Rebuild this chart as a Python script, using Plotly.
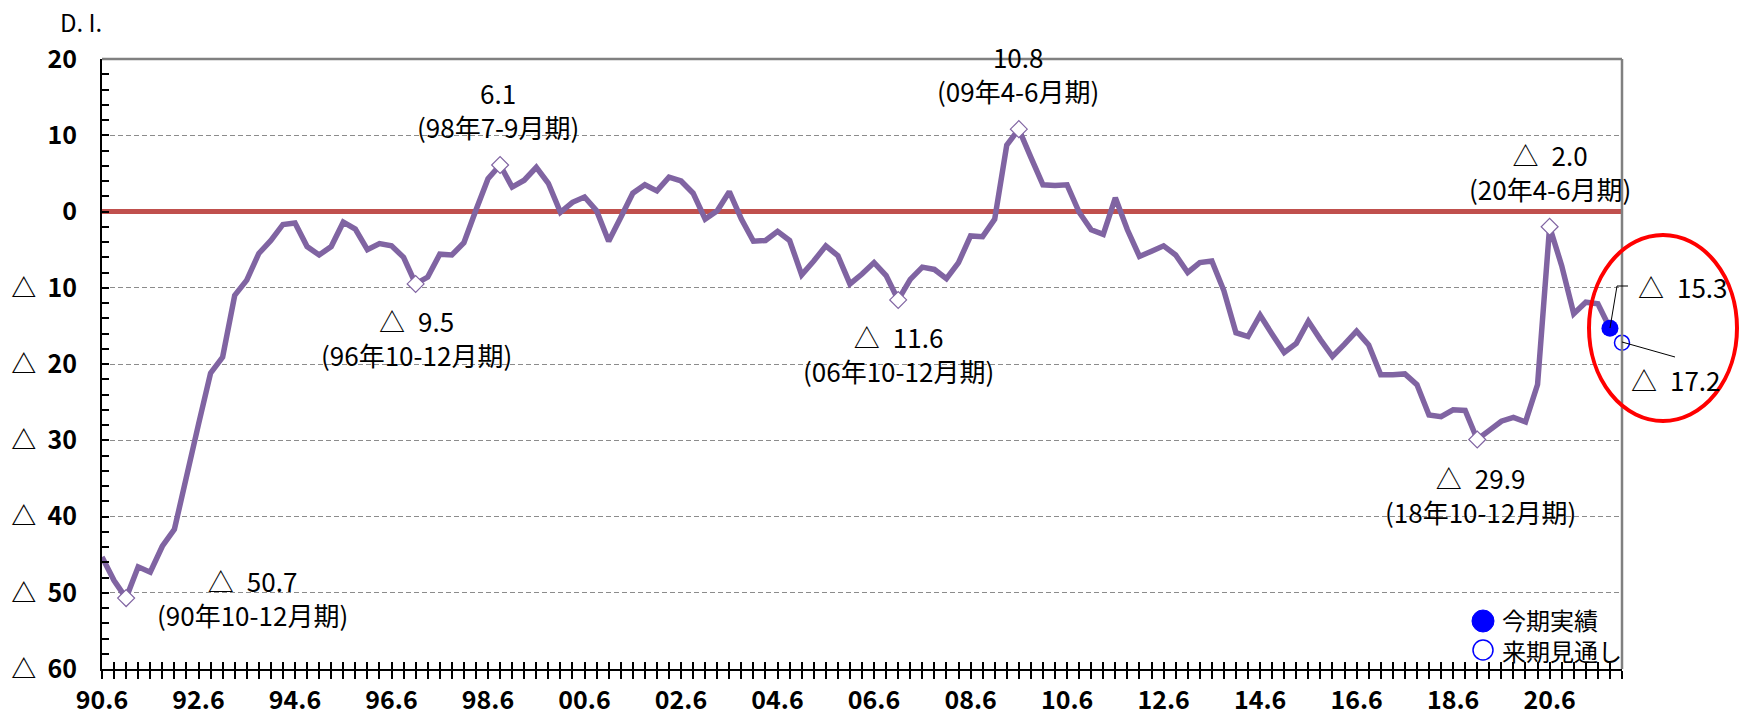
import plotly.graph_objects as go

# ---- data -------------------------------------------------------------
# Quarterly business conditions D.I., 1990 Apr-Jun (90.6) through 2021 Jul-Sep
di_values = [
    -45.3, -48.4, -50.7, -46.6, -47.3, -43.9, -41.7, -34.4,   # 90.6 - 92.3
    -27.9, -21.2, -19.1, -11.0, -9.0, -5.5, -3.8, -1.7,       # 92.6 - 94.3
    -1.5, -4.6, -5.7, -4.6, -1.4, -2.3, -5.0, -4.2,           # 94.6 - 96.3
    -4.5, -6.0, -9.5, -8.6, -5.6, -5.7, -4.1, 0.2,            # 96.6 - 98.3
    4.3, 6.1, 3.2, 4.1, 5.8, 3.7, -0.1, 1.2,                  # 98.6 - 00.3
    1.9, 0.1, -3.9, -0.8, 2.4, 3.5, 2.7, 4.5,                 # 00.6 - 02.3
    4.0, 2.4, -1.0, 0.1, 2.6, -1.0, -3.9, -3.8,               # 02.6 - 04.3
    -2.6, -3.8, -8.3, -6.5, -4.5, -5.8, -9.5, -8.2,           # 04.6 - 06.3
    -6.7, -8.4, -11.6, -8.9, -7.3, -7.6, -8.8, -6.7,          # 06.6 - 08.3
    -3.2, -3.3, -1.0, 8.7, 10.8, 7.1, 3.5, 3.4,               # 08.6 - 10.3
    3.5, -0.1, -2.4, -3.0, 1.8, -2.4, -5.9, -5.2,             # 10.6 - 12.3
    -4.5, -5.7, -8.0, -6.7, -6.5, -10.4, -15.9, -16.4,        # 12.6 - 14.3
    -13.6, -16.1, -18.5, -17.3, -14.4, -16.8, -19.0, -17.4,   # 14.6 - 16.3
    -15.7, -17.5, -21.4, -21.4, -21.3, -22.7, -26.7, -26.9,   # 16.6 - 18.3
    -26.0, -26.1, -29.9, -28.7, -27.5, -27.0, -27.6, -22.7,   # 18.6 - 20.3
    -2.0, -7.1, -13.4, -11.9, -12.1, -15.3,                   # 20.6 - 21.9
]
forecast_value = -17.2          # outlook for the next quarter (21.12)

# peaks and troughs that carry a callout
extreme_idx = [2, 26, 33, 66, 76, 114, 120]
extreme_period = ["(90年10-12月期)", "(96年10-12月期)", "(98年7-9月期)",
                  "(06年10-12月期)", "(09年4-6月期)", "(18年10-12月期)",
                  "(20年4-6月期)"]

x_tick_labels = ["90.6", "92.6", "94.6", "96.6", "98.6", "00.6", "02.6", "04.6",
                 "06.6", "08.6", "10.6", "12.6", "14.6", "16.6", "18.6", "20.6"]
y_tick_values = [20, 10, 0, -10, -20, -30, -40, -50, -60]
y_tick_labels = ["20", "10", "0", "△\u00a0\u00a010", "△\u00a0\u00a020", "△\u00a0\u00a030",
                 "△\u00a0\u00a040", "△\u00a0\u00a050", "△\u00a0\u00a060"]
legend_labels = ["今期実績", "来期見通し"]

# ---- layout constants ---------------------------------------------------
W, H = 1739, 709
PL, PR, PT, PB = 102, 1622, 59, 669          # plot area in pixels
FONT = "Noto Sans CJK JP"
PURPLE = "#8064A2"
BLUE = "#0000FF"

n_quarters = len(di_values) + 1               # incl. the outlook quarter
quarter_idx = list(range(len(di_values)))
last_idx = len(di_values) - 1
fc_idx = last_idx + 1


def px(x):
    return (x - PL) / (PR - PL)


def py(y):
    return (PB - y) / (PB - PT)


def fmt(v):
    return ("△\u2002" if v < 0 else "") + f"{abs(v):.1f}"


fig = go.Figure()

fig.add_trace(go.Scatter(x=quarter_idx, y=di_values, mode="lines",
                         line=dict(color=PURPLE, width=5.5), hoverinfo="skip"))
fig.add_trace(go.Scatter(x=extreme_idx, y=[di_values[i] for i in extreme_idx],
                         mode="markers", hoverinfo="skip",
                         marker=dict(symbol="diamond", size=13, color="white",
                                     line=dict(color=PURPLE, width=1.2))))
fig.add_trace(go.Scatter(x=[last_idx], y=[di_values[last_idx]], mode="markers",
                         cliponaxis=False, hoverinfo="skip",
                         marker=dict(size=17, color=BLUE)))
fig.add_trace(go.Scatter(x=[fc_idx], y=[forecast_value], mode="markers",
                         cliponaxis=False, hoverinfo="skip",
                         marker=dict(size=15, color="white",
                                     line=dict(color=BLUE, width=1.5))))
# carrier for the inner tick marks of the quarter axis
fig.add_trace(go.Scatter(x=[], y=[], xaxis="x2", showlegend=False))

all_ticks = list(range(n_quarters))
tick_text = [x_tick_labels[i // 8] if i % 8 == 0 and i // 8 < len(x_tick_labels) else ""
             for i in all_ticks]

fig.update_layout(
    width=W, height=H,
    margin=dict(l=PL, r=W - PR, t=PT, b=H - PB, autoexpand=False),
    paper_bgcolor="white", plot_bgcolor="white",
    showlegend=False,
    font=dict(family=FONT, color="black"),
    xaxis=dict(range=[0, n_quarters - 1], tickmode="array", tickvals=all_ticks,
               ticktext=tick_text, ticks="outside", ticklen=8, tickwidth=1.5,
               tickcolor="black", showline=True, linecolor="black", linewidth=2,
               showgrid=False, zeroline=False, automargin=False,
               tickfont=dict(family=FONT, size=25, weight="bold")),
    xaxis2=dict(range=[0, n_quarters - 1], overlaying="x", anchor="y", side="bottom",
                tickmode="array", tickvals=all_ticks, ticks="inside", ticklen=7,
                tickwidth=1.5, tickcolor="black", showticklabels=False,
                showline=False, showgrid=False, zeroline=False),
    yaxis=dict(range=[-60, 20], tickmode="array", tickvals=y_tick_values,
               ticktext=y_tick_labels, ticks="inside", ticklen=7, tickwidth=1.5,
               tickcolor="black", showline=True, linecolor="black", linewidth=2,
               showgrid=True, gridcolor="#8c8c8c", gridwidth=1, griddash="5px,3px",
               zeroline=True, zerolinecolor="#C0504D", zerolinewidth=5,
               automargin=False, ticklabelstandoff=18,
               tickfont=dict(family=FONT, size=25, weight="bold"),
               minor=dict(tickmode="array", tickvals=list(range(-60, 21, 2)),
                          ticks="inside", ticklen=7, tickwidth=1.5,
                          tickcolor="black", showgrid=False)),
)

shapes = [
    # top and right frame
    dict(type="line", xref="paper", yref="paper", x0=0, x1=1, y0=1, y1=1,
         line=dict(color="#808080", width=2.5)),
    dict(type="line", xref="paper", yref="paper", x0=1, x1=1, y0=0, y1=1,
         line=dict(color="#808080", width=2.5)),
    # highlight ring around the latest results
    dict(type="circle", xref="paper", yref="paper",
         x0=px(1589), x1=px(1737), y0=py(421), y1=py(235),
         line=dict(color="#FF0000", width=4)),
    # leader lines for the latest results
    dict(type="path", xref="paper", yref="paper",
         path=f"M {px(1610)},{py(328)} L {px(1617)},{py(286)} L {px(1628)},{py(286)}",
         line=dict(color="black", width=1)),
    dict(type="line", xref="paper", yref="paper",
         x0=px(1622), y0=py(342), x1=px(1675), y1=py(357),
         line=dict(color="black", width=1)),
    # legend keys
    dict(type="circle", xref="paper", yref="paper",
         x0=px(1472), x1=px(1494), y0=py(632), y1=py(610),
         fillcolor=BLUE, line=dict(color=BLUE, width=1)),
    dict(type="circle", xref="paper", yref="paper",
         x0=px(1473), x1=px(1493), y0=py(660), y1=py(640),
         fillcolor="white", line=dict(color=BLUE, width=1.5)),
]
fig.update_layout(shapes=shapes)

# callout block centres (pixels), one per peak / trough
callout_pos = [(252, 597), (416, 337), (498, 110), (898, 353),
               (1018, 73), (1480, 494), (1550, 171)]

annotations = []
for idx, period, (cx, cy) in zip(extreme_idx, extreme_period, callout_pos):
    annotations.append(dict(xref="paper", yref="paper", x=px(cx), y=py(cy),
                            text=f"{fmt(di_values[idx])}<br>{period}",
                            showarrow=False, align="center",
                            xanchor="center", yanchor="middle",
                            font=dict(family=FONT, size=26)))

annotations += [
    dict(xref="paper", yref="paper", x=px(1636), y=py(286), text=fmt(di_values[last_idx]),
         showarrow=False, xanchor="left", yanchor="middle", font=dict(family=FONT, size=26)),
    dict(xref="paper", yref="paper", x=px(1629), y=py(379), text=fmt(forecast_value),
         showarrow=False, xanchor="left", yanchor="middle", font=dict(family=FONT, size=26)),
    # legend text, one block so the two entries sit on consecutive lines
    dict(xref="paper", yref="paper", x=px(1500), y=py(635), text="<br>".join(legend_labels),
         showarrow=False, xanchor="left", yanchor="middle", align="left",
         font=dict(family=FONT, size=24)),
    dict(xref="paper", yref="paper", x=px(58), y=py(21), text="D. I.",
         showarrow=False, xanchor="left", yanchor="middle", font=dict(family=FONT, size=24)),
]
fig.update_layout(annotations=annotations)

fig.write_html("out.html")
